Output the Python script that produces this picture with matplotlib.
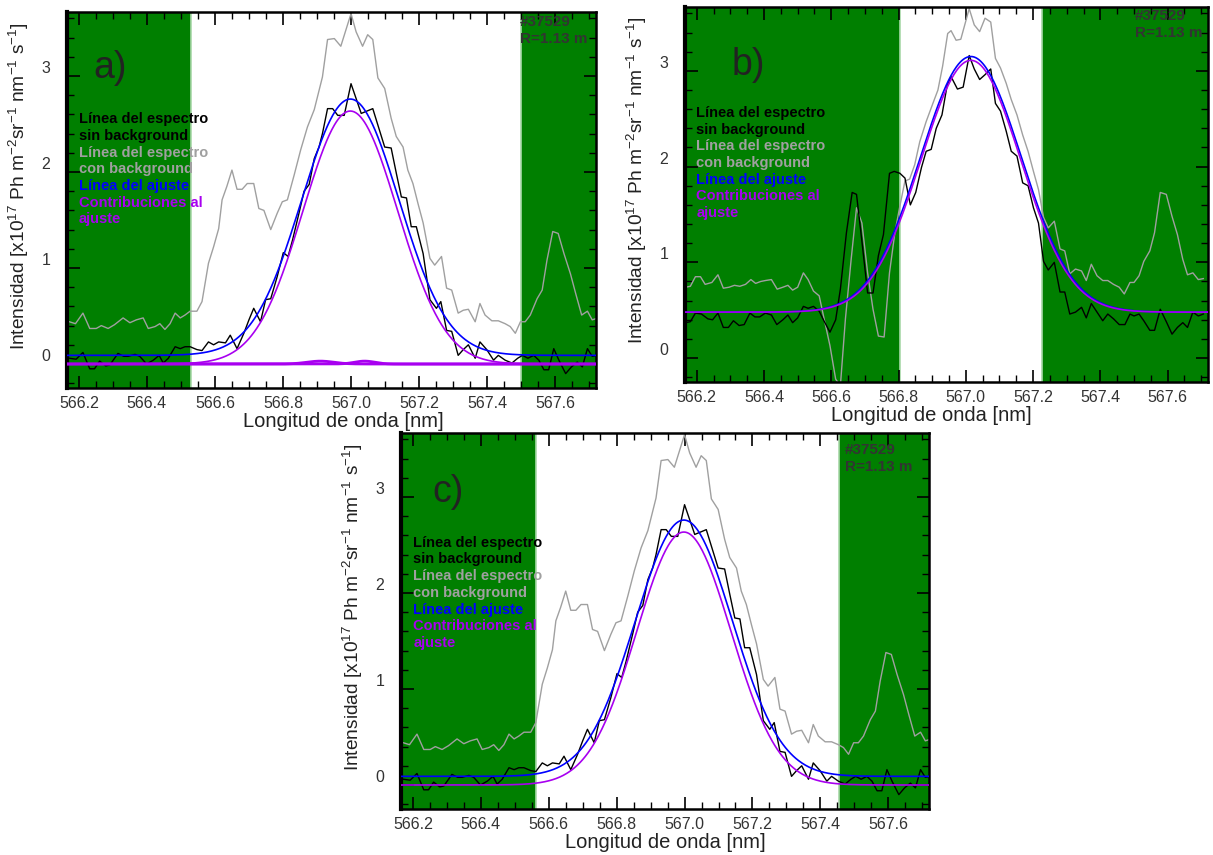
import numpy as np
import matplotlib.pyplot as plt
from matplotlib.ticker import MultipleLocator

plt.rcParams['font.family'] = ['Liberation Sans', 'DejaVu Sans']
plt.rcParams['mathtext.fontset'] = 'custom'
plt.rcParams['mathtext.rm'] = 'Liberation Sans'
plt.rcParams['mathtext.it'] = 'Liberation Sans:italic'
plt.rcParams['mathtext.bf'] = 'Liberation Sans:bold'

# spectrum used in panels a) and c)
wl_ac_black = [566.172, 566.192, 566.212, 566.232, 566.246, 566.261, 566.279, 566.291, 566.315, 566.332,
               566.345, 566.365, 566.379, 566.399, 566.419, 566.436, 566.448, 566.463, 566.483, 566.498,
               566.512, 566.527, 566.547, 566.562, 566.581, 566.596, 566.611, 566.631, 566.645, 566.665,
               566.685, 566.700, 566.714, 566.734, 566.749, 566.764, 566.783, 566.801, 566.815, 566.828,
               566.847, 566.862, 566.877, 566.892, 566.906, 566.916, 566.931, 566.946, 566.961, 566.980,
               567.000, 567.030, 567.064, 567.099, 567.118, 567.133, 567.148, 567.163, 567.177, 567.192,
               567.212, 567.232, 567.251, 567.264, 567.281, 567.296, 567.315, 567.330, 567.345, 567.365,
               567.379, 567.399, 567.419, 567.433, 567.453, 567.473, 567.490, 567.504, 567.520, 567.537,
               567.552, 567.567, 567.581, 567.596, 567.611, 567.631, 567.648, 567.665, 567.680, 567.695,
               567.709, 567.727]
int_ac_black = [0.06, 0.05, 0.12, -0.05, -0.05, 0.03, -0.02, -0.01, 0.11, 0.08,
                0.08, 0.10, 0.08, 0.00, 0.04, 0.09, 0.01, 0.06, 0.18, 0.16,
                0.18, 0.18, 0.15, 0.14, 0.23, 0.20, 0.23, 0.22, 0.30, 0.16,
                0.32, 0.46, 0.58, 0.44, 0.67, 0.68, 0.91, 1.16, 1.12, 1.29,
                1.57, 1.80, 1.87, 2.14, 2.26, 2.40, 2.66, 2.66, 2.59, 2.59,
                2.92, 2.61, 2.66, 2.26, 2.25, 1.99, 1.74, 1.73, 1.43, 1.43,
                1.15, 0.67, 0.58, 0.65, 0.35, 0.34, 0.09, 0.15, 0.20, 0.06,
                0.23, 0.15, 0.04, 0.09, 0.04, 0.01, 0.06, 0.09, 0.06, 0.09,
                0.04, -0.06, -0.06, 0.16, 0.04, -0.10, -0.03, 0.02, -0.03, 0.16,
                0.08, 0.09]

wl_ac_gray = [566.172, 566.190, 566.212, 566.232, 566.251, 566.266, 566.286, 566.305, 566.330, 566.350,
              566.369, 566.389, 566.404, 566.424, 566.438, 566.453, 566.468, 566.483, 566.498, 566.512,
              566.527, 566.547, 566.562, 566.581, 566.596, 566.611, 566.621, 566.635, 566.650, 566.665,
              566.680, 566.695, 566.714, 566.729, 566.744, 566.764, 566.783, 566.798, 566.813, 566.833,
              566.852, 566.872, 566.892, 566.916, 566.931, 566.951, 566.970, 566.985, 567.000, 567.015,
              567.034, 567.049, 567.064, 567.079, 567.099, 567.118, 567.133, 567.153, 567.167, 567.182,
              567.197, 567.212, 567.232, 567.246, 567.266, 567.281, 567.296, 567.315, 567.330, 567.345,
              567.365, 567.379, 567.394, 567.414, 567.433, 567.453, 567.468, 567.483, 567.498, 567.512,
              567.527, 567.547, 567.562, 567.576, 567.593, 567.609, 567.626, 567.645, 567.660, 567.678,
              567.695, 567.709, 567.727]
int_ac_gray = [0.44, 0.42, 0.53, 0.37, 0.37, 0.40, 0.37, 0.41, 0.48, 0.43,
               0.46, 0.48, 0.37, 0.39, 0.42, 0.36, 0.42, 0.53, 0.48, 0.51,
               0.55, 0.55, 0.65, 1.05, 1.22, 1.41, 1.71, 1.85, 2.02, 1.82,
               1.82, 1.88, 1.88, 1.62, 1.60, 1.40, 1.57, 1.69, 1.71, 1.97,
               2.23, 2.47, 2.65, 2.99, 3.38, 3.39, 3.31, 3.48, 3.65, 3.46,
               3.31, 3.43, 3.38, 2.98, 2.87, 2.56, 2.37, 2.26, 2.02, 1.88,
               1.67, 1.47, 1.10, 1.03, 1.12, 0.79, 0.77, 0.53, 0.56, 0.57,
               0.44, 0.63, 0.51, 0.45, 0.45, 0.42, 0.39, 0.32, 0.44, 0.44,
               0.51, 0.68, 0.77, 1.08, 1.38, 1.36, 1.15, 0.94, 0.74, 0.51,
               0.55, 0.46, 0.48]

# spectrum used in panel b)
wl_b_black = [566.167, 566.181, 566.196, 566.214, 566.233, 566.247, 566.263, 566.279, 566.294, 566.309,
              566.326, 566.341, 566.358, 566.373, 566.387, 566.404, 566.422, 566.438, 566.456, 566.471,
              566.485, 566.500, 566.517, 566.531, 566.547, 566.564, 566.578, 566.596, 566.613, 566.627,
              566.645, 566.662, 566.675, 566.691, 566.708, 566.724, 566.740, 566.755, 566.773, 566.787,
              566.804, 566.819, 566.835, 566.851, 566.868, 566.882, 566.897, 566.912, 566.929, 566.944,
              566.956, 566.975, 566.992, 567.010, 567.025, 567.041, 567.057, 567.074, 567.088, 567.103,
              567.120, 567.135, 567.152, 567.169, 567.185, 567.201, 567.216, 567.231, 567.245, 567.263,
              567.280, 567.294, 567.309, 567.326, 567.344, 567.358, 567.373, 567.390, 567.407, 567.422,
              567.439, 567.456, 567.473, 567.488, 567.500, 567.515, 567.529, 567.547, 567.561, 567.578,
              567.596, 567.613, 567.629, 567.645, 567.659, 567.675, 567.691, 567.706]
int_b_black = [0.37, 0.38, 0.47, 0.46, 0.41, 0.40, 0.47, 0.32, 0.32, 0.39,
               0.34, 0.35, 0.47, 0.43, 0.43, 0.47, 0.45, 0.35, 0.40, 0.45,
               0.37, 0.42, 0.54, 0.52, 0.54, 0.49, 0.39, 0.27, 0.40, 0.72,
               1.31, 1.73, 1.71, 1.22, 0.68, 0.68, 1.07, 1.29, 1.93, 1.95,
               1.93, 1.88, 1.60, 1.73, 1.99, 2.16, 2.18, 2.40, 2.54, 2.84,
               2.94, 2.81, 2.83, 3.16, 3.02, 2.91, 2.96, 3.02, 2.66, 2.58,
               2.37, 2.16, 2.11, 1.83, 1.80, 1.57, 1.41, 1.01, 0.92, 1.00,
               0.69, 0.69, 0.46, 0.48, 0.53, 0.42, 0.57, 0.48, 0.39, 0.46,
               0.41, 0.35, 0.35, 0.46, 0.44, 0.46, 0.39, 0.29, 0.29, 0.51,
               0.38, 0.25, 0.32, 0.37, 0.32, 0.48, 0.44, 0.46]

wl_b_gray = [566.167, 566.181, 566.196, 566.211, 566.225, 566.245, 566.263, 566.279, 566.296, 566.312,
             566.328, 566.345, 566.361, 566.375, 566.390, 566.404, 566.422, 566.439, 566.456, 566.471,
             566.485, 566.500, 566.517, 566.531, 566.547, 566.564, 566.578, 566.596, 566.613, 566.627,
             566.642, 566.659, 566.675, 566.691, 566.708, 566.724, 566.740, 566.757, 566.773, 566.789,
             566.804, 566.819, 566.833, 566.848, 566.863, 566.882, 566.902, 566.917, 566.931, 566.946,
             566.956, 566.971, 566.985, 567.010, 567.025, 567.041, 567.057, 567.074, 567.088, 567.103,
             567.120, 567.135, 567.152, 567.169, 567.185, 567.201, 567.216, 567.231, 567.245, 567.263,
             567.280, 567.294, 567.309, 567.326, 567.344, 567.358, 567.373, 567.390, 567.407, 567.422,
             567.439, 567.456, 567.471, 567.488, 567.500, 567.515, 567.529, 567.547, 567.561, 567.578,
             567.596, 567.613, 567.629, 567.645, 567.659, 567.675, 567.691, 567.706]
int_b_gray = [0.74, 0.75, 0.85, 0.85, 0.77, 0.79, 0.87, 0.73, 0.74, 0.76,
              0.75, 0.77, 0.82, 0.78, 0.80, 0.81, 0.82, 0.72, 0.74, 0.76,
              0.71, 0.74, 0.89, 0.82, 0.70, 0.65, 0.42, 0.13, -0.22, -0.29,
              0.41, 1.03, 1.57, 1.41, 0.89, 0.51, 0.23, 0.22, 0.89, 1.31,
              1.59, 1.85, 1.87, 2.02, 2.26, 2.47, 2.66, 2.80, 3.05, 3.39,
              3.42, 3.32, 3.33, 3.65, 3.48, 3.41, 3.55, 3.51, 3.13, 3.03,
              2.87, 2.70, 2.54, 2.33, 2.16, 1.95, 1.76, 1.47, 1.36, 1.43,
              1.14, 1.12, 0.88, 0.93, 0.91, 0.81, 0.98, 0.86, 0.81, 0.81,
              0.77, 0.74, 0.67, 0.79, 0.79, 0.86, 1.01, 1.12, 1.31, 1.73,
              1.71, 1.48, 1.29, 1.03, 0.87, 0.89, 0.82, 0.83]

# gaussian fits: (offset, amplitude, centre, sigma)
fit_ac_total = (0.09, 2.67, 566.998, 0.143)
fit_ac_line = (0.0, 2.635, 566.998, 0.139)
fit_b_total = (0.48, 2.67, 567.015, 0.150)
fit_b_line = (0.48, 2.63, 567.015, 0.148)
# small extra contributions drawn in panel a)
extra_a = [(0.0, 0.03, 566.91, 0.04), (0.0, 0.03, 567.04, 0.03)]

# excluded (green) wavelength ranges per panel
green_a = [566.53, 567.50]
green_b = [566.805, 567.225]
green_c = [566.562, 567.455]

panel_labels = ['a)', 'b)', 'c)']
legend_lines = ['Línea del espectro', 'sin background', 'Línea del espectro', 'con background',
                'Línea del ajuste', 'Contribuciones al', 'ajuste']

GREEN = '#007f00'
GRAY = '#a0a0a0'
BLUE = '#0000ff'
PURPLE = '#a800f0'
legend_colors = ['black', 'black', GRAY, GRAY, BLUE, PURPLE, PURPLE]

XMIN, XMAX = 566.165, 567.72
YMIN, YMAX = -0.25, 3.667


def gauss(x, p):
    off, amp, cen, sig = p
    return off + amp * np.exp(-(x - cen) ** 2 / (2 * sig ** 2))


fig = plt.figure(figsize=(12.13, 8.55), dpi=100)
rects = [[0.0552, 0.5462, 0.4361, 0.4398],
         [0.5647, 0.5532, 0.4312, 0.4386],
         [0.3306, 0.0538, 0.4353, 0.4398]]
spectra = [(wl_ac_black, int_ac_black, wl_ac_gray, int_ac_gray, fit_ac_total, fit_ac_line, green_a),
           (wl_b_black, int_b_black, wl_b_gray, int_b_gray, fit_b_total, fit_b_line, green_b),
           (wl_ac_black, int_ac_black, wl_ac_gray, int_ac_gray, fit_ac_total, fit_ac_line, green_c)]
label_pos = [(0.049, 0.824), (0.089, 0.82), (0.06, 0.817)]
legend_pos = [(0.023, 0.715), (0.022, 0.717), (0.023, 0.708)]
shot_pos = [(0.856, 0.973, 0.928), (0.860, 0.976, 0.931), (0.841, 0.955, 0.910)]
xlabel_x = [0.522, 0.47, 0.5]

xf = np.linspace(XMIN, XMAX, 600)
for k in range(3):
    ax = fig.add_axes(rects[k])
    wb, ib, wg, ig, ftot, fline, green = spectra[k]
    ax.axvspan(XMIN, green[0], color=GREEN, lw=0, zorder=0)
    ax.axvspan(green[1], XMAX, color=GREEN, lw=0, zorder=0)
    for g in green:
        ax.axvline(g, color='#a8d8a8', lw=1.2, zorder=0.5)

    ax.plot(wg, ig, color=GRAY, lw=1.0, zorder=2)
    ax.plot(wb, ib, color='black', lw=1.0, zorder=3)
    if k == 0:
        for p in extra_a:
            ax.plot(xf, gauss(xf, p), color=PURPLE, lw=2.0, zorder=3)
    ax.plot(xf, gauss(xf, ftot), color=BLUE, lw=1.2, zorder=4)
    ax.plot(xf, gauss(xf, fline), color=PURPLE, lw=1.2, zorder=5)

    ax.set_xlim(XMIN, XMAX)
    ax.set_ylim(YMIN, YMAX)
    ax.xaxis.set_major_locator(MultipleLocator(0.2))
    ax.xaxis.set_minor_locator(MultipleLocator(0.05))
    ax.yaxis.set_major_locator(MultipleLocator(1))
    ax.yaxis.set_minor_locator(MultipleLocator(0.2))
    ax.tick_params(which='both', direction='in', top=True, right=True, colors='black',
                   labelcolor='#333333', labelsize=11.5)
    ax.tick_params(which='major', length=9, width=1.2)
    ax.tick_params(which='minor', length=5, width=1.0)
    ax.tick_params(axis='x', pad=6)
    ax.tick_params(axis='y', pad=12)
    for t in ax.get_yticklabels():
        t.set_va('bottom')
    for side in ['top', 'right', 'bottom']:
        ax.spines[side].set_linewidth(1.8)
    ax.spines['left'].set_linewidth(3.0)

    ax.set_xlabel('Longitud de onda [nm]', fontsize=14.5, color='#222222')
    ax.xaxis.set_label_coords(xlabel_x[k], -0.064)
    ax.set_ylabel('Intensidad [x10$^{17}$ Ph m$^{-2}$sr$^{-1}$ nm$^{-1}$ s$^{-1}$]',
                  fontsize=13.8, color='#222222')
    ax.yaxis.set_label_coords(-0.068, 0.537)

    ax.text(label_pos[k][0], label_pos[k][1], panel_labels[k], transform=ax.transAxes,
            fontsize=27, color='#222222', ha='left', va='baseline', zorder=6)

    lx, ly = legend_pos[k]
    for i in range(len(legend_lines)):
        ax.text(lx, ly - i * 0.0444, legend_lines[i], transform=ax.transAxes,
                fontsize=10.5, fontweight='bold', color=legend_colors[i],
                ha='left', va='center', zorder=6)

    sx, sy1, sy2 = shot_pos[k]
    ax.text(sx, sy1, '#37529', transform=ax.transAxes, fontsize=11, fontweight='bold',
            color='#333333', ha='left', va='center', zorder=6)
    ax.text(sx, sy2, 'R=1.13 m', transform=ax.transAxes, fontsize=11, fontweight='bold',
            color='#333333', ha='left', va='center', zorder=6)

fig.savefig('out.png', dpi=100)
